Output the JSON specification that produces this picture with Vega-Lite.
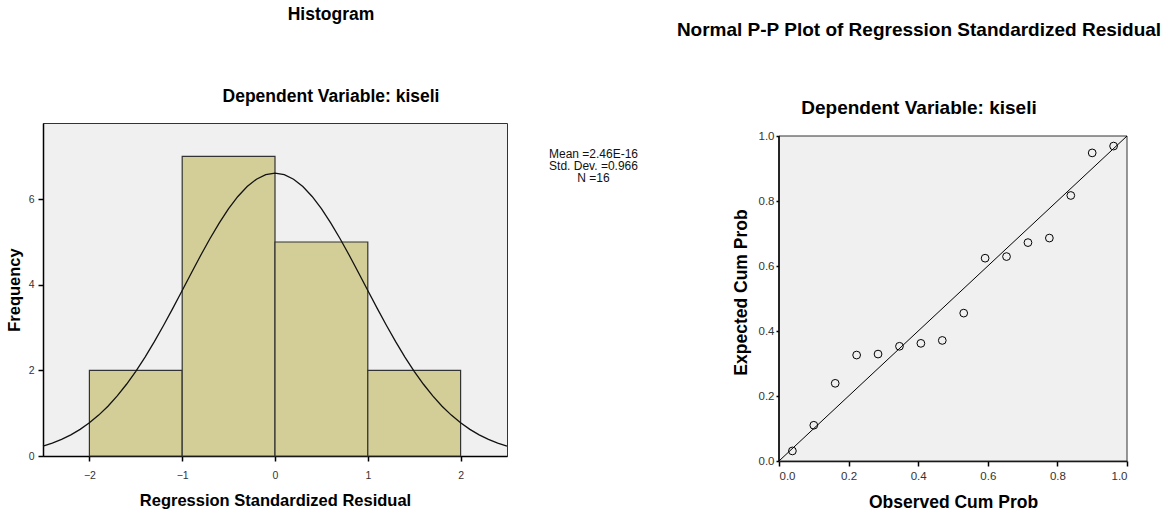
{
  "$schema": "https://vega.github.io/schema/vega-lite/v6.json",
  "background": "white",
  "padding": {"left": 5, "right": 0, "top": 5, "bottom": 0},
  "config": {
    "font": "Liberation Sans",
    "view": {"fill": "#f0f0f0", "stroke": "#333", "strokeWidth": 1},
    "axis": {"grid": false, "domainColor": "#000", "domainWidth": 1.5, "tickColor": "#000", "tickWidth": 1.5, "labelColor": "#333", "titleColor": "#000", "titleFontWeight": "bold", "labelFont": "Liberation Sans", "titleFont": "Liberation Sans"},
    "title": {"color": "#000", "subtitleColor": "#000", "fontWeight": "bold", "subtitleFontWeight": "bold", "anchor": "middle", "font": "Liberation Sans", "subtitleFont": "Liberation Sans"}
  },
  "datasets": {
    "bins": [
      {"lo": -2, "hi": -1, "count": 2},
      {"lo": -1, "hi": 0, "count": 7},
      {"lo": 0, "hi": 1, "count": 5},
      {"lo": 1, "hi": 2, "count": 2}
    ],
    "curve": [
      {"x": -2.5, "density": 0.232}, {"x": -2.4, "density": 0.302}, {"x": -2.3, "density": 0.388}, {"x": -2.2, "density": 0.494},
      {"x": -2.1, "density": 0.622}, {"x": -2.0, "density": 0.775}, {"x": -1.9, "density": 0.955}, {"x": -1.8, "density": 1.164},
      {"x": -1.7, "density": 1.404}, {"x": -1.6, "density": 1.676}, {"x": -1.5, "density": 1.979}, {"x": -1.4, "density": 2.311},
      {"x": -1.3, "density": 2.671}, {"x": -1.2, "density": 3.054}, {"x": -1.1, "density": 3.455}, {"x": -1.0, "density": 3.866},
      {"x": -0.9, "density": 4.281}, {"x": -0.8, "density": 4.689}, {"x": -0.7, "density": 5.081}, {"x": -0.6, "density": 5.448},
      {"x": -0.5, "density": 5.779}, {"x": -0.4, "density": 6.064}, {"x": -0.3, "density": 6.296}, {"x": -0.2, "density": 6.467},
      {"x": -0.1, "density": 6.572}, {"x": 0.0, "density": 6.607}, {"x": 0.1, "density": 6.572}, {"x": 0.2, "density": 6.467},
      {"x": 0.3, "density": 6.296}, {"x": 0.4, "density": 6.064}, {"x": 0.5, "density": 5.779}, {"x": 0.6, "density": 5.448},
      {"x": 0.7, "density": 5.081}, {"x": 0.8, "density": 4.689}, {"x": 0.9, "density": 4.281}, {"x": 1.0, "density": 3.866},
      {"x": 1.1, "density": 3.455}, {"x": 1.2, "density": 3.054}, {"x": 1.3, "density": 2.671}, {"x": 1.4, "density": 2.311},
      {"x": 1.5, "density": 1.979}, {"x": 1.6, "density": 1.676}, {"x": 1.7, "density": 1.404}, {"x": 1.8, "density": 1.164},
      {"x": 1.9, "density": 0.955}, {"x": 2.0, "density": 0.775}, {"x": 2.1, "density": 0.622}, {"x": 2.2, "density": 0.494},
      {"x": 2.3, "density": 0.388}, {"x": 2.4, "density": 0.302}, {"x": 2.5, "density": 0.232}
    ],
    "stats": [
      {"stat": "Mean =2.46E-16"},
      {"stat": "Std. Dev. =0.966"},
      {"stat": "N =16"}
    ],
    "pp": [
      {"observed": 0.0385, "expected": 0.031}, {"observed": 0.1000, "expected": 0.110},
      {"observed": 0.1615, "expected": 0.239}, {"observed": 0.2231, "expected": 0.326},
      {"observed": 0.2846, "expected": 0.329}, {"observed": 0.3462, "expected": 0.353},
      {"observed": 0.4077, "expected": 0.362}, {"observed": 0.4692, "expected": 0.371},
      {"observed": 0.5308, "expected": 0.455}, {"observed": 0.5923, "expected": 0.624},
      {"observed": 0.6538, "expected": 0.629}, {"observed": 0.7154, "expected": 0.672},
      {"observed": 0.7769, "expected": 0.686}, {"observed": 0.8385, "expected": 0.817},
      {"observed": 0.9000, "expected": 0.948}, {"observed": 0.9615, "expected": 0.969}
    ],
    "diag": [{"p": 0}, {"p": 1}],
    "frame": [{"id": 1}]
  },
  "spacing": 16,
  "hconcat": [
    {
      "width": 464,
      "height": 333,
      "title": {"text": "Histogram", "subtitle": "Dependent Variable: kiseli", "fontSize": 17.5, "subtitleFontSize": 17.5, "subtitlePadding": 64, "offset": 18, "dx": 56},
      "layer": [
        {
          "data": {"name": "bins"},
          "mark": {"type": "rect", "fill": "#d3ce97", "stroke": "#333", "strokeWidth": 1.2},
          "encoding": {
            "x": {"field": "lo", "type": "quantitative", "scale": {"domain": [-2.5, 2.5], "nice": false},
                  "axis": {"values": [-2, -1, 0, 1, 2], "format": "d", "title": "Regression Standardized Residual", "titleFontSize": 16.5, "labelFontSize": 10.5, "tickSize": 5, "labelPadding": 9, "titlePadding": 12}},
            "x2": {"field": "hi"},
            "y": {"field": "count", "type": "quantitative", "scale": {"domain": [0, 7.78], "nice": false},
                  "axis": {"values": [0, 2, 4, 6], "format": "d", "title": "Frequency", "titleFontSize": 16.5, "labelFontSize": 10.5, "tickSize": 5, "labelPadding": 4, "titlePadding": 6}},
            "y2": {"datum": 0}
          }
        },
        {
          "data": {"name": "curve"},
          "mark": {"type": "line", "color": "#111", "strokeWidth": 1.3},
          "encoding": {
            "x": {"field": "x", "type": "quantitative"},
            "y": {"field": "density", "type": "quantitative"}
          }
        }
      ]
    },
    {
      "width": 133,
      "height": 61,
      "view": {"fill": null, "stroke": null},
      "data": {"name": "stats"},
      "mark": {"type": "text", "fontSize": 12, "color": "#111"},
      "encoding": {
        "y": {"field": "stat", "type": "nominal", "sort": null, "axis": null, "scale": {"type": "band", "paddingInner": 0, "paddingOuter": 1, "align": 1}},
        "text": {"field": "stat"}
      }
    },
    {
      "width": 348,
      "height": 338,
      "view": {"fill": null, "stroke": null},
      "title": {"text": "Normal P-P Plot of Regression Standardized Residual", "subtitle": "Dependent Variable: kiseli", "fontSize": 19, "subtitleFontSize": 19, "subtitlePadding": 59, "offset": 5, "dx": -34},
      "layer": [
        {
          "data": {"name": "frame"},
          "mark": {"type": "rect", "fill": "#f0f0f0", "stroke": "#333", "strokeWidth": 1},
          "encoding": {
            "x": {"datum": 0, "type": "quantitative", "scale": {"domain": [0, 1], "nice": false},
                  "axis": {"values": [0, 0.2, 0.4, 0.6, 0.8, 1.0], "format": ".1f", "title": "Observed Cum Prob", "titleFontSize": 17.5, "labelFontSize": 11.5, "tickSize": 5, "labelPadding": 4, "titlePadding": 12}},
            "x2": {"datum": 1},
            "y": {"datum": 0, "type": "quantitative", "scale": {"domain": [0, 1.04], "nice": false},
                  "axis": {"values": [0, 0.2, 0.4, 0.6, 0.8, 1.0], "format": ".1f", "domain": false, "title": "Expected Cum Prob", "titleFontSize": 17.5, "labelFontSize": 11.5, "tickSize": 3, "labelPadding": 2, "titlePadding": 8}},
            "y2": {"datum": 1}
          }
        },
        {
          "data": {"name": "frame"},
          "mark": {"type": "rule", "color": "#000", "strokeWidth": 1.5},
          "encoding": {
            "x": {"datum": 0, "type": "quantitative"},
            "y": {"datum": 0, "type": "quantitative"},
            "y2": {"datum": 1}
          }
        },
        {
          "data": {"name": "diag"},
          "mark": {"type": "line", "color": "#000", "strokeWidth": 1},
          "encoding": {
            "x": {"field": "p", "type": "quantitative"},
            "y": {"field": "p", "type": "quantitative"}
          }
        },
        {
          "data": {"name": "pp"},
          "mark": {"type": "point", "shape": "circle", "filled": false, "size": 60, "stroke": "#000", "strokeWidth": 1, "opacity": 1},
          "encoding": {
            "x": {"field": "observed", "type": "quantitative"},
            "y": {"field": "expected", "type": "quantitative"}
          }
        }
      ]
    }
  ]
}
